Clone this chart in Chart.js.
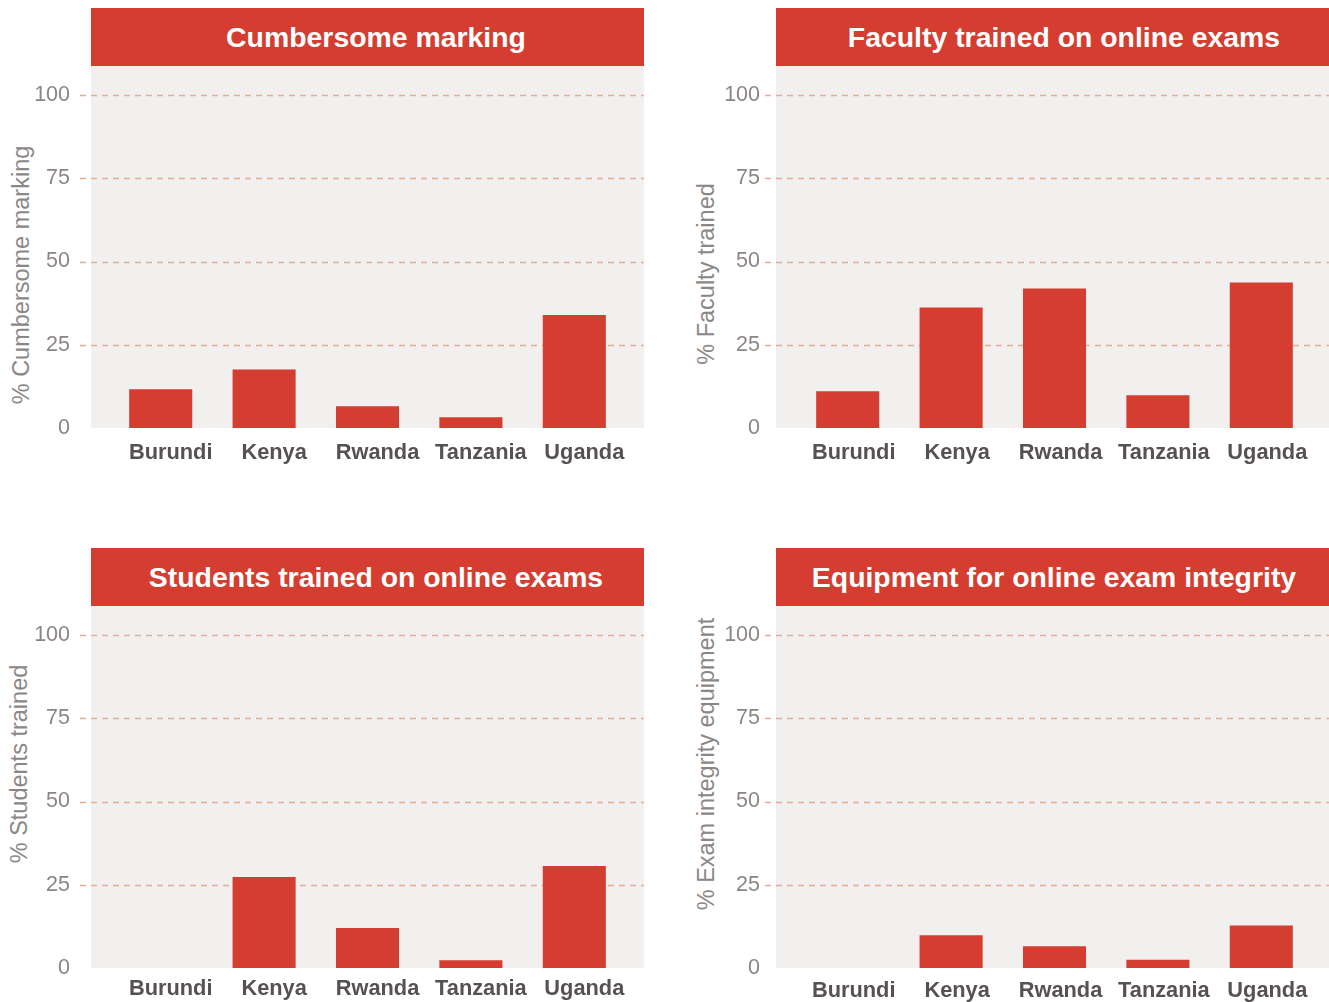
<!DOCTYPE html>
<html>
<head>
<meta charset="utf-8">
<script src="https://cdn.jsdelivr.net/npm/chart.js@4.4.1/dist/chart.umd.min.js"></script>
<style>
  html, body { margin: 0; padding: 0; background: #fff; overflow: hidden; }
  body { width: 1329px; height: 1002px; position: relative; font-family: "Liberation Sans", Arial, sans-serif; }
  .head {
    position: absolute; height: 58px; width: 553px; background: #d43d2f; color: #fff; box-sizing: border-box;
    font-weight: bold; font-size: 28.4px; display: flex; align-items: center; justify-content: center;
  }
  .ytitle {
    position: absolute; white-space: nowrap; color: #8c8787; font-size: 23.5px;
    transform: translate(-50%, -50%) rotate(-90deg);
  }
  canvas { position: absolute; }
</style>
</head>
<body>
<script>
// categories + values
const countries = ['Burundi', 'Kenya', 'Rwanda', 'Tanzania', 'Uganda'];
const cumbersome = [11.6, 17.6, 6.5, 3.2, 33.9];
const faculty = [11.0, 36.2, 41.9, 9.8, 43.7];
const students = [0, 27.3, 12.0, 2.3, 30.6];
const equipment = [0, 9.8, 6.5, 2.5, 12.8];
const yTicks = [0, 25, 50, 75, 100];

const RED = '#d43d2f';
const FONT = '"Liberation Sans", Arial, sans-serif';

const panels = [
  { title: 'Cumbersome marking', ytitle: '% Cumbersome marking', data: cumbersome,
    plotLeft: 91, top: 8, insetL: 18, insetR: 18, tickPad: 39, yt: [20.5, 275],
    titleShift: 17, lblShift: 10, lblPad: 12 },
  { title: 'Faculty trained on online exams', ytitle: '% Faculty trained', data: faculty,
    plotLeft: 776, top: 8, insetL: 20, insetR: 16, tickPad: 36, yt: [706, 274],
    titleShift: 23, lblShift: 6, lblPad: 12 },
  { title: 'Students trained on online exams', ytitle: '% Students trained', data: students,
    plotLeft: 91, top: 548, insetL: 18, insetR: 18, tickPad: 39, yt: [19, 763.5],
    titleShift: 17, lblShift: 10, lblPad: 8 },
  { title: 'Equipment for online exam integrity', ytitle: '% Exam integrity equipment', data: equipment,
    plotLeft: 776, top: 548, insetL: 20, insetR: 16, tickPad: 36, yt: [706, 764],
    titleShift: 3, lblShift: 6, lblPad: 10 },
];

// grey panel + dashed grid, extended past the chart area like the original
const panelBg = {
  id: 'panelBg',
  beforeDraw(chart, args, opts) {
    const { ctx, chartArea: a, scales: { y } } = chart;
    const l = a.left - opts.insetL, r = a.right + opts.insetR;
    ctx.save();
    ctx.fillStyle = '#f2f0ef';
    ctx.fillRect(l, 0, r - l, a.bottom);
    ctx.strokeStyle = '#e4ad98';
    ctx.lineWidth = 1.3;
    ctx.setLineDash([6, 5]);
    y.ticks.forEach(t => {
      if (t.value === 0) return;
      const py = Math.round(y.getPixelForValue(t.value)) + 0.5;
      ctx.beginPath();
      ctx.moveTo(l - 11, py);
      ctx.lineTo(r, py);
      ctx.stroke();
    });
    ctx.restore();
  }
};

panels.forEach(p => {
  const head = document.createElement('div');
  head.className = 'head';
  head.style.left = p.plotLeft + 'px';
  head.style.top = p.top + 'px';
  head.style.paddingLeft = p.titleShift + 'px';
  head.textContent = p.title;
  document.body.appendChild(head);

  const yt = document.createElement('div');
  yt.className = 'ytitle';
  yt.style.left = p.yt[0] + 'px';
  yt.style.top = p.yt[1] + 'px';
  yt.textContent = p.ytitle;
  document.body.appendChild(yt);

  const cv = document.createElement('canvas');
  cv.width = 644; cv.height = 404;
  cv.style.left = (p.plotLeft - 91) + 'px';
  cv.style.top = (p.top + 58) + 'px';
  document.body.appendChild(cv);

  new Chart(cv, {
    type: 'bar',
    data: {
      labels: countries,
      datasets: [{ data: p.data, backgroundColor: RED, borderWidth: 0, barPercentage: 0.61, categoryPercentage: 1 }]
    },
    options: {
      responsive: false, animation: false, devicePixelRatio: 1,
      layout: { padding: { left: 0, right: p.insetR, top: 29, bottom: 0 } },
      plugins: { legend: { display: false }, tooltip: { enabled: false },
                 panelBg: { insetL: p.insetL, insetR: p.insetR } },
      scales: {
        x: {
          offset: true,
          grid: { display: false, drawTicks: false, tickLength: 0 }, border: { display: false },
          ticks: { color: '#575151', padding: p.lblPad, maxRotation: 0, labelOffset: p.lblShift,
                   font: { family: FONT, size: 21.8, weight: 'bold' } },
          afterFit(s) { s.height = 42; s.paddingLeft = 0; s.paddingRight = 0; }
        },
        y: {
          min: 0, max: 100,
          grid: { display: false, drawTicks: false, tickLength: 0 }, border: { display: false },
          afterBuildTicks(s) { s.ticks = yTicks.map(v => ({ value: v })); },
          ticks: { color: '#8b8585', padding: p.tickPad,
                   font: { family: FONT, size: 21.5 } },
          afterFit(s) { s.width = 91 + p.insetL; s.paddingTop = 0; s.paddingBottom = 0; }
        }
      }
    },
    plugins: [panelBg]
  });
});
</script>
</body>
</html>
